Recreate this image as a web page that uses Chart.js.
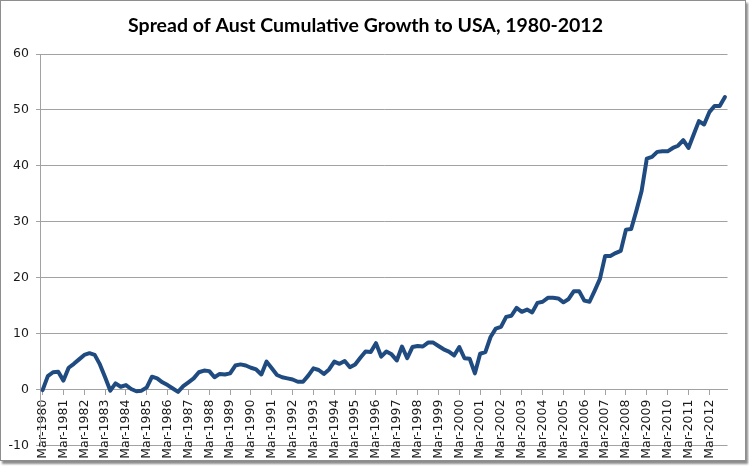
<!DOCTYPE html>
<html>
<head>
<meta charset="utf-8">
<script src="https://cdn.jsdelivr.net/npm/chart.js"></script>
<style>
  body { margin: 0; background: #fff; }
  #frame {
    position: absolute; left: 0; top: 0;
    width: 744px; height: 459px;
    border: 1px solid #8e8e8e;
    box-shadow: 2px 3px 2px rgba(0,0,0,0.45);
    background: #fff;
  }
  canvas { display: block; }
</style>
</head>
<body>
<div id="frame"><canvas id="spreadChart" width="744" height="459"></canvas></div>
<script>
// quarterly, Mar-1980 .. Dec-2012
const years = [1980, 1981, 1982, 1983, 1984, 1985, 1986, 1987, 1988, 1989, 1990,
  1991, 1992, 1993, 1994, 1995, 1996, 1997, 1998, 1999, 2000, 2001, 2002, 2003,
  2004, 2005, 2006, 2007, 2008, 2009, 2010, 2011, 2012];
const quarters = ["Mar", "Jun", "Sep", "Dec"];

const spread = [
  -0.1, 2.4, 3.1, 3.2,   1.6, 3.9, 4.6, 5.4,   6.2, 6.5, 6.2, 4.5,   // 80-82
  2.2, -0.2, 1.1, 0.5,   0.8, 0.1, -0.3, -0.2,  0.4, 2.3, 2.0, 1.3,   // 83-85
  0.8, 0.2, -0.4, 0.6,   1.3, 2.0, 3.1, 3.4,   3.3, 2.2, 2.8, 2.7,   // 86-88
  2.9, 4.3, 4.5, 4.3,   3.9, 3.6, 2.7, 5.0,   3.8, 2.6, 2.2, 2.0,   // 89-91
  1.8, 1.4, 1.4, 2.5,   3.8, 3.5, 2.8, 3.6,   5.0, 4.6, 5.1, 4.0,   // 92-94
  4.5, 5.7, 6.8, 6.7,   8.3, 5.9, 6.8, 6.3,   5.2, 7.7, 5.6, 7.6,   // 95-97
  7.8, 7.7, 8.4, 8.4,   7.8, 7.2, 6.8, 6.1,   7.6, 5.6, 5.5, 2.9,   // 98-00
  6.4, 6.7, 9.4, 10.9,  11.2, 13.0, 13.2, 14.6, 13.9, 14.3, 13.8, 15.5, // 01-03
  15.7, 16.4, 16.4, 16.3, 15.6, 16.2, 17.6, 17.6, 15.9, 15.7, 17.7, 19.8, // 04-06
  23.9, 23.9, 24.4, 24.8, 28.6, 28.7, 32.0, 35.5, 41.3, 41.6, 42.5, 42.6, // 07-09
  42.6, 43.2, 43.6, 44.6, 43.2, 45.6, 48.0, 47.4, 49.6, 50.7, 50.7, 52.3  // 10-12
];

const yTicks = [-10, 0, 10, 20, 30, 40, 50, 60];

let labels = [];
years.forEach(y => quarters.forEach(q => labels.push(q + "-" + y)));

const gridGrey = "#a2a2a2";
const tickFont = { family: "DejaVu Sans", size: 12.5 };

new Chart(document.getElementById("spreadChart"), {
  type: "line",
  data: {
    labels,
    datasets: [{
      label: "Spread",
      data: spread,
      borderColor: "#1f4b80",
      borderWidth: 4,
      pointRadius: 0,
      tension: 0,
      borderJoinStyle: "round",
      borderCapStyle: "round"
    }]
  },
  options: {
    responsive: false,
    animation: false,
    devicePixelRatio: 1,
    layout: { padding: { left: 0, right: 15, top: 0, bottom: 0 } },
    plugins: {
      legend: { display: false },
      tooltip: { enabled: false },
      title: {
        display: true,
        text: "Spread of Aust Cumulative Growth to USA, 1980-2012",
        color: "#000",
        font: { family: "Lato", weight: "bold", size: 19.5 },
        padding: { top: 13, bottom: 16.6 }
      }
    },
    scales: {
      x: {
        type: "category",
        position: { y: 0 },
        offset: true,
        afterFit: s => { s.height = 20; },
        grid: {
          drawOnChartArea: false,
          drawTicks: true,
          tickLength: 5,
          offset: false,
          tickColor: ctx => ctx.index % 4 === 0 ? gridGrey : "rgba(0,0,0,0)"
        },
        border: { color: gridGrey, width: 1 },
        ticks: {
          autoSkip: false,
          minRotation: 90,
          maxRotation: 90,
          padding: 5,
          color: "#1a1a1a",
          font: tickFont,
          callback: (v, i) => i % 4 === 0 ? labels[i] : ""
        }
      },
      y: {
        min: yTicks[0],
        max: yTicks[yTicks.length - 1],
        afterFit: s => { s.width = 39; },
        grid: { color: gridGrey, tickLength: 4, tickColor: gridGrey },
        border: { color: gridGrey },
        ticks: {
          stepSize: 10,
          padding: 7,
          color: "#1a1a1a",
          font: tickFont
        }
      }
    }
  }
});
</script>
</body>
</html>
